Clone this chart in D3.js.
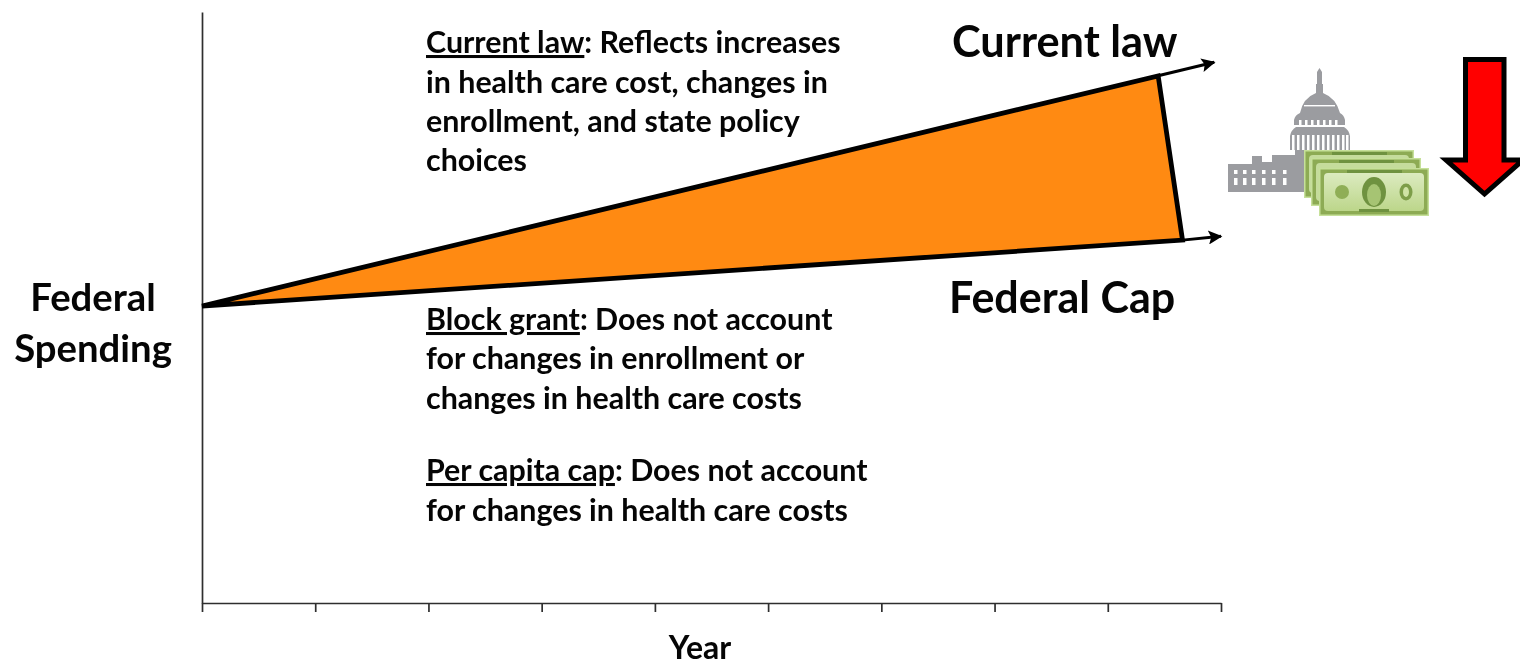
<!DOCTYPE html>
<html><head><meta charset="utf-8">
<script src="https://cdn.jsdelivr.net/npm/d3@7/dist/d3.min.js"></script>
<style>html,body{margin:0;padding:0;background:#fff;overflow:hidden}svg{display:block;filter:blur(0.45px)}text{font-family:Lato,"Open Sans",sans-serif;font-weight:700;fill:#050505;text-decoration-skip-ink:none}</style>
</head><body><svg id="c" width="1520" height="663"></svg>
<script>
// Data (year index, relative federal spending)
const yearTicks = [0,1,2,3,4,5,6,7,8,9];
const startPoint = [0, 50.25];
const currentLawEnd = [8.445, 89.2];
const currentLawArrow = [8.94, 91.5];
const federalCapEnd = [8.66, 61.4];
const federalCapArrow = [9.0, 62.05];
const yAxisLabel = ["Federal","Spending"];
const xAxisLabel = "Year";
const seriesLabels = ["Current law","Federal Cap"];
const notes = [
 {u:"Current law", lines:[": Reflects increases","in health care cost, changes in","enrollment, and state policy","choices"]},
 {u:"Block grant", lines:[": Does not account","for changes in enrollment or","changes in health care costs"]},
 {u:"Per capita cap", lines:[": Does not account","for changes in health care costs"]}
];
const noteBaselines = [[53,93,132,171],[330,369,409],[481,521]];

const svg = d3.select("#c");
const x = d3.scaleLinear().domain([0,9]).range([202,1221]);
const y = d3.scaleLinear().domain([0,100]).range([603,12]);
const P = p=>[x(p[0]),y(p[1])];

const defs = svg.append("defs");
defs.append("marker").attr("id","ah").attr("viewBox","0 0 10 10").attr("refX",9).attr("refY",5)
 .attr("markerWidth",15).attr("markerHeight",14).attr("markerUnits","userSpaceOnUse").attr("orient","auto")
 .append("path").attr("d","M0,0L10,5L0,10L2,5Z").attr("fill","#000");
const grad = defs.append("linearGradient").attr("id","bill").attr("x1",0).attr("y1",0).attr("x2",0).attr("y2",1);
grad.append("stop").attr("offset",0).attr("stop-color","#dcebc0");
grad.append("stop").attr("offset",1).attr("stop-color","#bcd68a");

// axes
const ax = d3.axisBottom(x).tickValues(yearTicks).tickFormat("").tickSize(9).tickSizeOuter(0);
const gx = svg.append("g").attr("transform",`translate(0,${y(0)})`).call(ax);
gx.selectAll("path,line").attr("stroke","#2e2e2e").attr("stroke-width",1.7);
const ay = d3.axisLeft(y).tickValues([]).tickSize(0).tickSizeOuter(0);
const gy = svg.append("g").attr("transform",`translate(${x(0)},0)`).call(ay);
gy.selectAll("path").attr("stroke","#2e2e2e").attr("stroke-width",1.7);

// arrows
[[currentLawEnd,currentLawArrow],[federalCapEnd,federalCapArrow]].forEach(([a,b])=>{
 svg.append("line").attr("x1",P(a)[0]).attr("y1",P(a)[1]).attr("x2",P(b)[0]).attr("y2",P(b)[1])
  .attr("stroke","#000").attr("stroke-width",3).attr("marker-end","url(#ah)");
});
// wedge
svg.append("path").attr("d",d3.line()([startPoint,currentLawEnd,federalCapEnd].map(P))+"Z")
 .attr("fill","#FF8A12").attr("stroke","#000").attr("stroke-width",4.8).attr("stroke-linejoin","miter");

// notes
const noteSize = 30.4, noteX = 426;
notes.forEach((n,i)=>{
 n.lines.forEach((l,j)=>{
  const t = svg.append("text").attr("x",noteX).attr("y",noteBaselines[i][j]).attr("font-size",noteSize);
  if(j===0){ t.append("tspan").attr("text-decoration","underline").text(n.u); }
  t.append("tspan").text(l);
 });
});
// labels
svg.append("text").attr("x",952).attr("y",57).attr("font-size",43.3).text(seriesLabels[0]);
svg.append("text").attr("x",949).attr("y",313).attr("font-size",43).text(seriesLabels[1]);
yAxisLabel.forEach((l,i)=>svg.append("text").attr("x",93).attr("y",[311,362][i]).attr("text-anchor","middle").attr("font-size",38.3).text(l));
svg.append("text").attr("x",700).attr("y",659).attr("text-anchor","middle").attr("font-size",32).text(xAxisLabel);

// capitol icon
const cap = svg.append("g").attr("fill","#9b9ca0");
cap.append("path").attr("d","M1228,192V164L1252,164V156H1262V162H1272V155H1295V150H1321V192Z");
cap.append("path").attr("d","M1290,150V136Q1291,130 1296,127H1344Q1349,130 1350,136V150Z");
cap.append("path").attr("d","M1294,125V120Q1295,115 1300,113Q1303,98 1316,93V84H1317V72L1319.5,68L1322,72V84H1323V93Q1336,98 1340,113Q1344,115 1345,120V125Z");
const capW = svg.append("g").attr("fill","#fff");
[1292,1297,1302,1307,1312,1317,1322,1327,1332,1337,1342,1346].forEach(v=>capW.append("rect").attr("x",v).attr("y",135).attr("width",2.5).attr("height",15));
[1299,1305,1311,1317,1323,1329,1335].forEach(v=>capW.append("rect").attr("x",v).attr("y",120).attr("width",2.5).attr("height",6));
capW.append("rect").attr("x",1304).attr("y",105).attr("width",31).attr("height",1.4);
[1234,1243,1252,1262,1272,1283].forEach(v=>{capW.append("rect").attr("x",v).attr("y",170).attr("width",3.5).attr("height",4);capW.append("rect").attr("x",v).attr("y",178).attr("width",3.5).attr("height",7);});

// money icon
[[1304,150],[1311,158],[1319,168]].forEach(([bx,by],i)=>{
 const g = svg.append("g").attr("transform",`translate(${bx},${by})`);
 g.append("rect").attr("width",110).attr("height",48).attr("fill","#c6e09a");
 g.append("rect").attr("x",1.5).attr("y",1.5).attr("width",107).attr("height",45).attr("fill","#8dab54");
 g.append("rect").attr("x",5).attr("y",5).attr("width",100).attr("height",38).attr("rx",4).attr("fill",i==2?"url(#bill)":"#c5dc9c");
 g.append("rect").attr("x",28).attr("y",2).attr("width",55).attr("height",3).attr("fill","#6f9240");
 if(i==2){
  g.append("circle").attr("cx",23).attr("cy",24).attr("r",7).attr("fill","#8fae56");
  g.append("ellipse").attr("cx",55).attr("cy",24).attr("rx",12).attr("ry",15).attr("fill","#6f9240");
  g.append("ellipse").attr("cx",55).attr("cy",27).attr("rx",7).attr("ry",11).attr("fill","#a6c473");
  g.append("ellipse").attr("cx",87).attr("cy",24).attr("rx",6.5).attr("ry",8.5).attr("fill","#7d9e49");
  g.append("ellipse").attr("cx",87).attr("cy",24).attr("rx",3).attr("ry",5).attr("fill","#cfe3a5");
  g.append("rect").attr("x",40).attr("y",41).attr("width",30).attr("height",3).attr("fill","#6f9240");
 }
});

// red arrow
svg.append("path").attr("d","M1465.5,59.5H1504V160H1523L1484.5,194L1446,160H1465.5Z")
 .attr("fill","#f00").attr("stroke","#000").attr("stroke-width",5);
</script></body></html>
